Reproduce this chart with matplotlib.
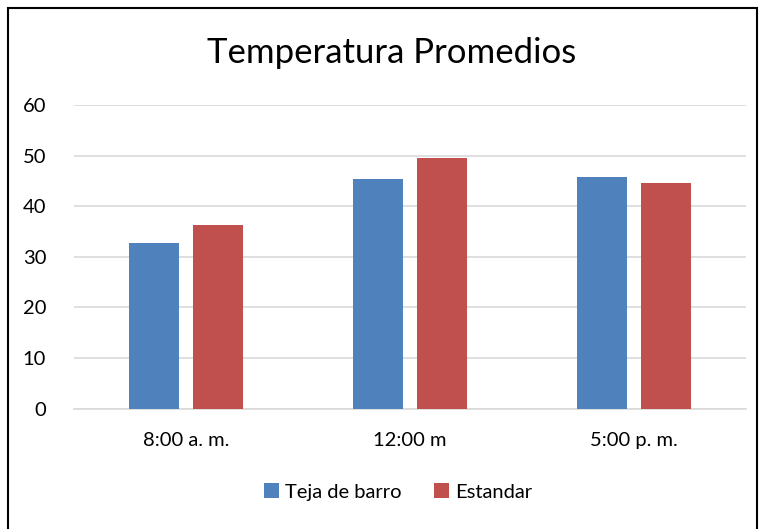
import numpy as np
import matplotlib.pyplot as plt
from matplotlib.patches import Rectangle

plt.rcParams['font.family'] = ['Lato', 'DejaVu Sans']

categorias = ["8:00 a. m.", "12:00 m", "5:00 p. m."]
teja = [32.7, 45.4, 45.8]
estandar = [36.2, 49.5, 44.6]
series = ["Teja de barro", "Estandar"]
colores = ["#4f81bd", "#c0504d"]

fig = plt.figure(figsize=(7.64, 5.29), dpi=100)
ax = fig.add_axes([74 / 764, 1 - 408.5 / 529, 672 / 764, 303.5 / 529])

x = np.arange(len(categorias))
ancho = 0.223
sep = 0.0625
ax.bar(x - (ancho + sep) / 2, teja, width=ancho, color=colores[0], label=series[0], zorder=3)
ax.bar(x + (ancho + sep) / 2, estandar, width=ancho, color=colores[1], label=series[1], zorder=3)

ax.set_xlim(-0.5, len(categorias) - 0.5)
ax.set_ylim(0, 60)
ax.set_yticks(range(0, 61, 10))
ax.set_xticks(x)
ax.set_xticklabels(categorias)
ax.tick_params(axis='both', length=0, labelsize=14.5, colors='#000000')
ax.tick_params(axis='y', pad=20)
ax.tick_params(axis='x', pad=17)
ax.grid(axis='y', color='#d9d9d9', linewidth=1.2, zorder=0)
for lado in ['top', 'right', 'left']:
    ax.spines[lado].set_visible(False)
ax.spines['bottom'].set_color('#d9d9d9')
ax.spines['bottom'].set_linewidth(1.2)

fig.text(392 / 764, 1 - 53 / 529, "Temperatura Promedios", ha='center', va='center', fontsize=25)

fig.legend(loc='center', bbox_to_anchor=(398 / 764, 1 - 492 / 529), ncol=2, frameon=False,
           fontsize=14.5, handlelength=0.75, handleheight=0.75, handletextpad=0.3, columnspacing=1.6)

# marco del gráfico
fig.patches.append(Rectangle((8 / 764, -0.05), 749 / 764, 1.05 - 8 / 529, transform=fig.transFigure,
                             fill=False, edgecolor='black', linewidth=1.5))

fig.savefig("out.png", dpi=100)
